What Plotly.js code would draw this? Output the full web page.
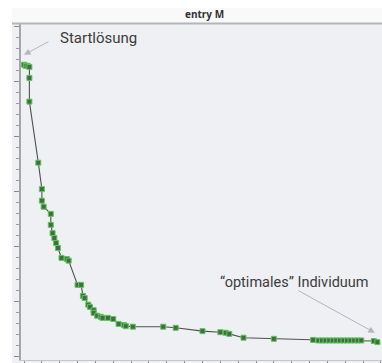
<!DOCTYPE html>
<html>
<head>
<meta charset="utf-8">
<script src="https://cdn.plot.ly/plotly-3.0.1.min.js"></script>
<style>
  html, body { margin: 0; padding: 0; background: #ffffff; }
  #chart { width: 382px; height: 363px; }
</style>
</head>
<body>
<div id="chart"></div>
<script>
// Best fitness per generation of the evolutionary run ("entry M")
const generation = [0, 1, 2, 3, 3, 3, 8, 10, 10, 11, 15, 15, 16, 17, 18, 19, 21, 24, 25, 30,
  32, 33, 34, 36, 37, 39, 39, 41, 43, 44, 47, 50, 53, 56, 57, 61, 78, 85, 100, 110,
  113, 115, 123, 140, 162, 165, 167, 169, 171, 173, 175, 177, 179, 181, 183, 185, 187, 189, 196, 198];
const fitness = [53.1, 52.9, 52.9, 52.7, 50.7, 46.4, 35.3, 30.5, 28.4, 27.3, 26.0, 24.0, 22.5, 21.6, 20.7, 19.8, 18.0, 17.8, 17.5, 13.1,
  13.1, 11.1, 10.7, 9.5, 9.1, 8.5, 8.0, 7.5, 7.3, 7.1, 7.1, 6.9, 6.0, 5.8, 5.6, 5.5, 5.5, 5.3, 4.7, 4.5,
  4.4, 4.2, 3.5, 3.3, 3.1, 3.0, 3.0, 3.0, 3.0, 3.0, 3.0, 3.0, 3.0, 3.0, 3.0, 3.0, 3.0, 3.0, 2.9, 2.7];

const chartTitle = 'entry M';
const startLabel = 'Startlösung';
const bestLabel = '\u201Coptimales\u201D Individuum';

// pixel helpers for the frame decorations around the plot area
const W = 382, H = 363, L = 21, R = 0, T = 24, B = 3;
const px = x => (x - L) / (W - L - R);
const py = y => (H - B - y) / (H - T - B);

const trace = {
  x: generation,
  y: fitness,
  type: 'scatter',
  mode: 'lines+markers',
  line: { color: '#505050', width: 1.1 },
  marker: { symbol: 'square', size: 5, color: '#466b44', line: { color: '#5ac85a', width: 1 } },
  hoverinfo: 'x+y'
};

const layout = {
  width: W,
  height: H,
  margin: { l: L, r: R, t: T, b: B, pad: 0 },
  paper_bgcolor: '#ffffff',
  plot_bgcolor: '#edeff2',
  showlegend: false,
  xaxis: {
    range: [-1.7, 200.6],
    showgrid: false, zeroline: false,
    showticklabels: false,
    ticks: 'outside', dtick: 10, tick0: 0, ticklen: 3, tickcolor: '#8a8a8a', tickwidth: 1,
    showline: true, linecolor: '#c4c6c9', linewidth: 1
  },
  yaxis: {
    range: [-0.55, 60.5],
    showgrid: false, zeroline: false,
    showticklabels: false,
    ticks: 'outside', dtick: 10, tick0: 0, ticklen: 5, tickcolor: '#8a8a8a', tickwidth: 1,
    minor: { dtick: 2, ticks: 'outside', ticklen: 3, tickcolor: '#9a9a9a', tickwidth: 1 },
    showline: true, linecolor: '#a4a6a9', linewidth: 2
  },
  shapes: [
    // panel background and title strip
    { type: 'rect', xref: 'paper', yref: 'paper', x0: px(12), x1: px(382), y0: py(8), y1: py(363),
      fillcolor: '#eef0f3', line: { width: 0 }, layer: 'below' },
    { type: 'rect', xref: 'paper', yref: 'paper', x0: px(12), x1: px(382), y0: py(8), y1: py(23),
      fillcolor: '#f9f9f9', line: { width: 0 }, layer: 'below' },
    { type: 'line', xref: 'paper', yref: 'paper', x0: px(12), x1: px(382), y0: py(23.5), y1: py(23.5),
      line: { color: '#b4b6b9', width: 2 } }
  ],
  annotations: [
    { xref: 'paper', yref: 'paper', x: px(204), y: py(14), text: '<b>' + chartTitle + '</b>',
      showarrow: false, xanchor: 'center', yanchor: 'middle',
      font: { family: 'Open Sans, sans-serif', size: 10, color: '#333333' } },
    { x: 41.5, y: 58.0, text: startLabel, showarrow: false, xanchor: 'center', yanchor: 'middle',
      font: { family: 'Roboto, sans-serif', size: 15, color: '#3c3c3c' } },
    { x: 0, y: 54.9, text: '', showarrow: true, ax: 26, ay: -14,
      arrowhead: 2, arrowsize: 1.3, arrowwidth: 1, arrowcolor: '#b2b6bc' },
    { x: 151.8, y: 13.5, text: bestLabel, showarrow: false, xanchor: 'center', yanchor: 'middle',
      font: { family: 'Roboto, sans-serif', size: 14.5, color: '#3c3c3c' } },
    { x: 196.6, y: 4.4, text: '', showarrow: true, ax: -78, ay: -43,
      arrowhead: 2, arrowsize: 1.3, arrowwidth: 1, arrowcolor: '#b2b6bc' }
  ]
};

Plotly.newPlot('chart', [trace], layout, { displayModeBar: false, staticPlot: true });
</script>
</body>
</html>
